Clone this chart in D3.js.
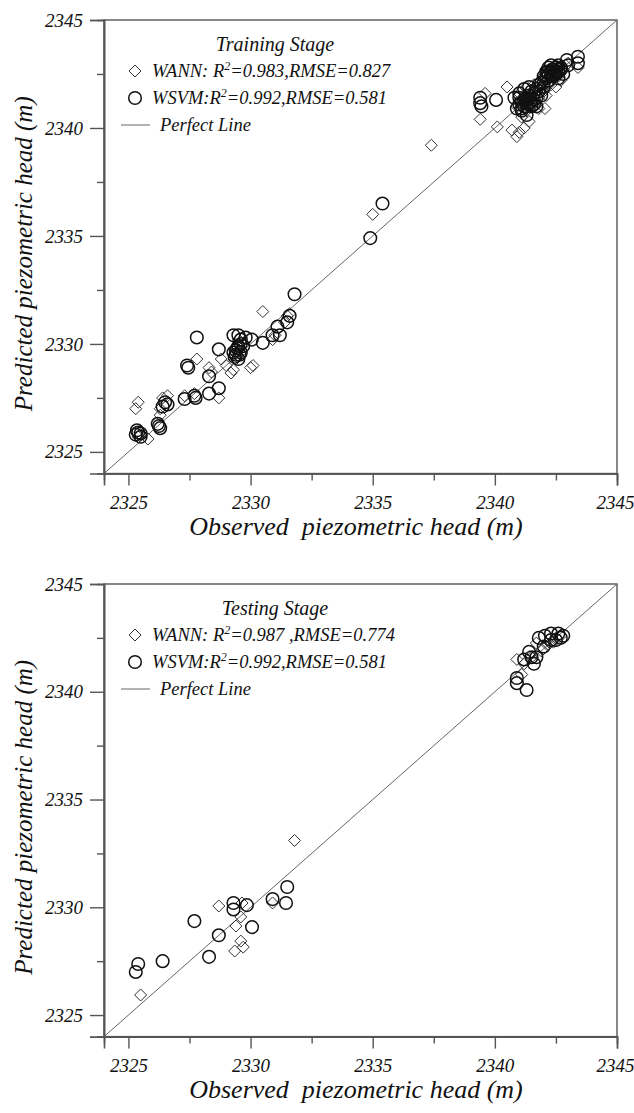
<!DOCTYPE html>
<html><head><meta charset="utf-8">
<script src="https://cdn.jsdelivr.net/npm/d3@7"></script>
<style>
html,body{margin:0;padding:0;background:#fff;}
svg text{font-family:"Liberation Serif","Times New Roman",Times,"DejaVu Serif",serif !important;font-style:italic;fill:#111;}
</style></head>
<body>
<svg id="chart" width="634" height="1113"></svg>
<script>
// ---------- DATA ----------
const axisMin = 2324, axisMax = 2345;
const majorTicks = [2325, 2330, 2335, 2340, 2345];
const minorTicks = [2327.5, 2332.5, 2337.5, 2342.5];

const trainWannObs  = [2325.3,2325.4,2325.5,2325.8,2325.4,2326.3,2326.4,2326.6,2326.3,2327.3,2327.7,2327.8,2328.3,2328.4,2328.7,2328.8,2329.0,2329.2,2329.3,2329.5,2330.0,2330.1,2330.5,2330.9,2331.0,2331.4,2331.5,2331.6,2329.6,2329.4,2335.0,2337.4,2339.4,2340.1,2340.5,2339.6,2340.7,2340.9,2341.0,2341.2,2341.4,2341.1,2342.05,2341.5,2341.8,2341.0,2341.3,2341.6,2341.9,2342.2,2342.4,2342.6,2342.3,2342.0,2342.8,2343.4,2343.0,2342.5,2342.7,2341.7,2342.1,2341.2,2340.9,2342.5,2342.9,2342.2,2341.3,2341.6,2342.0,2342.3,2342.6,2341.8,2342.4];
const trainWannPred = [2327.0,2327.3,2325.8,2325.6,2325.7,2326.7,2327.5,2327.6,2327.0,2327.6,2327.7,2329.3,2328.9,2328.7,2327.5,2329.3,2329.0,2328.65,2328.8,2330.2,2328.9,2329.0,2331.5,2330.2,2330.4,2331.0,2331.3,2331.4,2329.6,2329.3,2336.0,2339.2,2340.4,2340.05,2341.9,2341.6,2339.9,2339.6,2339.8,2340.0,2340.3,2340.5,2340.9,2341.0,2341.4,2341.6,2341.9,2342.0,2341.8,2342.0,2342.3,2342.5,2342.7,2342.4,2342.7,2342.8,2343.0,2341.9,2342.2,2341.1,2341.5,2341.2,2341.0,2342.9,2342.9,2342.7,2340.8,2341.3,2341.7,2342.0,2342.4,2340.9,2342.6];

const trainWsvmObs  = [2325.3,2325.4,2325.5,2325.35,2325.5,2326.25,2326.3,2326.2,2326.4,2326.5,2326.6,2327.3,2327.7,2327.75,2327.4,2327.45,2327.8,2328.3,2328.3,2328.7,2328.7,2329.3,2329.5,2329.45,2329.4,2329.6,2329.5,2329.7,2329.6,2329.3,2329.8,2330.05,2330.5,2330.9,2331.2,2331.1,2331.5,2331.6,2331.8,2334.9,2335.4,2339.4,2339.4,2339.45,2340.05,2340.9,2340.8,2341.0,2341.1,2341.2,2341.3,2341.4,2341.5,2341.6,2341.7,2341.8,2341.9,2342.0,2342.1,2342.2,2342.3,2342.4,2342.5,2342.6,2342.7,2342.3,2342.4,2342.5,2342.2,2342.6,2342.95,2343.4,2343.4,2341.5,2341.2,2341.7,2342.0,2342.6,2342.8,2343.0,2341.3,2341.0,2341.1,2341.35,2341.6,2341.25,2341.45,2342.35,2342.45,2342.15,2341.0,2341.2,2341.3,2341.5,2341.6,2341.8,2341.9,2342.0,2342.1,2342.2,2342.3,2342.4,2342.5,2342.6,2341.4,2341.7,2341.1,2342.7,2329.4,2329.5,2329.6,2329.55,2329.35];
const trainWsvmPred = [2325.8,2325.9,2325.7,2326.0,2325.85,2326.2,2326.1,2326.3,2327.1,2327.3,2327.2,2327.45,2327.6,2327.5,2329.0,2328.9,2330.3,2328.5,2327.7,2327.95,2329.75,2330.4,2330.4,2329.8,2329.5,2329.6,2329.3,2329.9,2330.2,2329.6,2330.3,2330.2,2330.05,2330.4,2330.4,2330.8,2331.0,2331.3,2332.3,2334.9,2336.5,2341.4,2341.15,2341.0,2341.3,2340.9,2341.4,2341.6,2341.2,2341.0,2340.6,2341.5,2341.7,2341.3,2341.8,2342.0,2341.5,2342.1,2342.3,2342.5,2342.6,2342.7,2342.8,2342.6,2342.8,2342.4,2342.5,2342.6,2342.8,2342.9,2343.15,2343.3,2343.0,2341.0,2341.8,2341.4,2341.9,2342.3,2342.5,2342.9,2341.3,2341.4,2340.9,2341.1,2341.1,2341.4,2341.2,2342.7,2342.6,2342.6,2341.1,2341.3,2341.0,2341.2,2341.6,2341.7,2342.1,2342.4,2342.6,2342.2,2342.9,2342.4,2342.5,2342.7,2341.9,2341.0,2340.8,2342.7,2329.7,2329.9,2330.0,2329.5,2329.4];

const testWannObs  = [2331.8,2328.7,2329.6,2329.4,2329.6,2329.7,2329.35,2325.5,2330.9,2329.65,2340.9,2341.1,2341.7,2341.2,2341.9,2342.2,2342.5,2342.7,2342.4,2341.5,2342.0];
const testWannPred = [2333.1,2330.06,2329.55,2329.13,2328.43,2328.15,2327.97,2325.93,2330.2,2330.2,2341.5,2340.8,2342.26,2341.3,2341.9,2342.2,2342.5,2342.6,2342.3,2341.6,2342.0];

const testWsvmObs  = [2331.5,2331.45,2330.9,2329.85,2329.3,2329.3,2330.06,2328.7,2328.3,2327.7,2326.4,2325.4,2325.3,2341.3,2340.9,2340.9,2341.2,2341.5,2341.7,2341.4,2341.8,2342.05,2342.3,2342.6,2342.8,2342.3,2342.5,2341.6,2342.0,2342.7];
const testWsvmPred = [2330.94,2330.2,2330.38,2330.1,2330.2,2329.9,2329.08,2328.7,2327.7,2329.36,2327.5,2327.37,2327.0,2340.08,2340.4,2340.64,2341.5,2341.6,2341.6,2341.85,2342.5,2342.6,2342.7,2342.7,2342.6,2342.4,2342.4,2341.3,2342.1,2342.5];

const panelTitles = ["Training Stage", "Testing Stage"];
const wannR2 = ["0.983", "0.987 "], wannRmse = ["0.827", "0.774"];
const wsvmR2 = ["0.992", "0.992"], wsvmRmse = ["0.581", "0.581"];
const xTitle = "Observed\u00a0 piezometric head (m)";
const yTitle = "Predicted piezometric head (m)";

// ---------- DRAW ----------
const svg = d3.select("#chart");
const FONT = "'Liberation Serif','Times New Roman',Times,'DejaVu Serif',serif";

function diamondPath(r){ return `M0,${-r}L${r},0L0,${r}L${-r},0Z`; }

function panel(idx, top, bottom, wObs, wPred, sObs, sPred){
  const left = 104, right = 617;
  const x = d3.scaleLinear().domain([axisMin, axisMax]).range([left, right]);
  const y = d3.scaleLinear().domain([axisMin, axisMax]).range([bottom, top]);
  const g = svg.append("g");

  g.append("rect").attr("x", left).attr("y", top).attr("width", right-left).attr("height", bottom-top)
    .attr("fill","none").attr("stroke","#555").attr("stroke-width",1.4);

  g.append("line").attr("x1", x(axisMin)).attr("y1", y(axisMin)).attr("x2", x(axisMax)).attr("y2", y(axisMax))
    .attr("stroke","#666").attr("stroke-width",1);

  const styleAxis = sel => { sel.attr("font-family", FONT);
    sel.select(".domain").attr("stroke","#555").attr("stroke-width",1.6);
    sel.selectAll(".tick line").attr("stroke","#555").attr("stroke-width",1.4);
    sel.selectAll("text").attr("font-size",19).style("font-family",FONT).style("font-style","italic").attr("fill","#111"); };
  g.append("g").attr("transform",`translate(${left},0)`)
    .call(d3.axisLeft(y).tickValues(majorTicks).tickSize(14).tickPadding(7).tickFormat(d3.format("d"))).call(styleAxis);
  g.append("g").attr("transform",`translate(${left},0)`)
    .call(d3.axisLeft(y).tickValues(minorTicks).tickSize(7).tickFormat("")).call(styleAxis);
  const xa = g.append("g").attr("transform",`translate(0,${bottom})`)
    .call(d3.axisBottom(x).tickValues(majorTicks).tickSize(12).tickPadding(10).tickFormat(d3.format("d"))).call(styleAxis);
  xa.selectAll(".tick").filter(d => d === axisMax).select("text").attr("text-anchor","end").attr("dx", 17);
  g.append("g").attr("transform",`translate(0,${bottom})`)
    .call(d3.axisBottom(x).tickValues(minorTicks).tickSize(7).tickFormat("")).call(styleAxis);

  g.append("text").attr("x", 356).attr("y", bottom + 61).attr("text-anchor","middle").attr("font-size",26).style("font-family",FONT).text(xTitle);
  g.append("text").attr("transform",`translate(32,${(top+bottom)/2 + 7}) rotate(-90)`).attr("text-anchor","middle").attr("font-size",25).style("font-family",FONT).text(yTitle);

  const wann = wObs.map((v,i)=>[v, wPred[i]]);
  const wsvm = sObs.map((v,i)=>[v, sPred[i]]);
  g.append("g").selectAll("path").data(wann).join("path")
    .attr("d", diamondPath(6)).attr("transform", d=>`translate(${x(d[0])},${y(d[1])})`)
    .attr("fill","none").attr("stroke","#333").attr("stroke-width",1);
  g.append("g").selectAll("circle").data(wsvm).join("circle")
    .attr("cx", d=>x(d[0])).attr("cy", d=>y(d[1])).attr("r",6.3)
    .attr("fill","none").attr("stroke","#111").attr("stroke-width",1.5);

  const lg = g.append("g").attr("transform",`translate(0,${top})`);
  lg.append("text").attr("x", 275).attr("y", 31).attr("text-anchor","middle").attr("font-size",20).style("font-family",FONT).text(panelTitles[idx]);
  lg.append("path").attr("d", diamondPath(6)).attr("transform","translate(135,51)").attr("fill","none").attr("stroke","#333").attr("stroke-width",1);
  const t1 = lg.append("text").attr("x",152).attr("y",57).attr("font-size",18.5).style("font-family",FONT);
  t1.append("tspan").text("WANN: R");
  t1.append("tspan").attr("font-size",12).attr("dy",-7).text("2");
  t1.append("tspan").attr("dy",7).text("=" + wannR2[idx] + ",RMSE=" + wannRmse[idx]);
  lg.append("circle").attr("cx",135).attr("cy",78).attr("r",6.3).attr("fill","none").attr("stroke","#111").attr("stroke-width",1.5);
  const t2 = lg.append("text").attr("x",152).attr("y",84).attr("font-size",18.5).style("font-family",FONT);
  t2.append("tspan").text("WSVM:R");
  t2.append("tspan").attr("font-size",12).attr("dy",-7).text("2");
  t2.append("tspan").attr("dy",7).text("=" + wsvmR2[idx] + ",RMSE=" + wsvmRmse[idx]);
  lg.append("line").attr("x1",121).attr("x2",150).attr("y1",105).attr("y2",105).attr("stroke","#666").attr("stroke-width",1);
  lg.append("text").attr("x",160).attr("y",111).attr("font-size",18.5).style("font-family",FONT).text("Perfect Line");
}

panel(0, 20, 473.5, trainWannObs, trainWannPred, trainWsvmObs, trainWsvmPred);
panel(1, 584, 1036.6, testWannObs, testWannPred, testWsvmObs, testWsvmPred);
</script>
</body></html>
